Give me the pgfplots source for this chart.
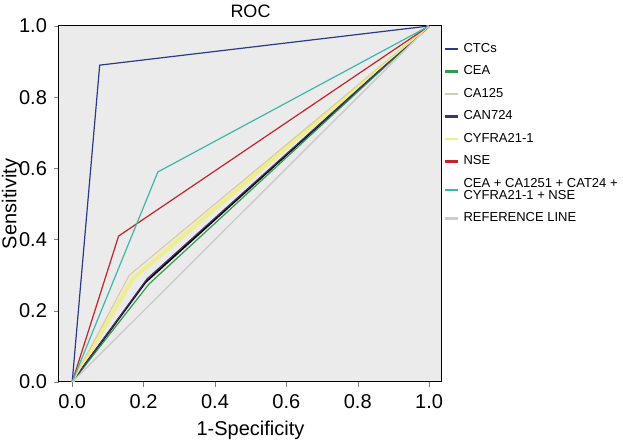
\documentclass[border=0pt]{standalone}
\usepackage{pgfplots}
\pgfplotsset{compat=1.18}
\usepackage{fontspec}
\setmainfont{Liberation Sans}
\definecolor{bgc}{HTML}{EBEBEB}
\definecolor{cctc}{HTML}{2B3A8A}
\definecolor{ccea}{HTML}{2E9E4A}
\definecolor{cca}{HTML}{D9CCA6}
\definecolor{ccan}{HTML}{4A2F6E}
\definecolor{ccyf}{HTML}{EEEE8C}
\definecolor{cnse}{HTML}{C62228}
\definecolor{ccomb}{HTML}{3DB7AA}
\definecolor{cref}{HTML}{CDCDCD}
\begin{document}
\begin{tikzpicture}
\path[use as bounding box] (0,0) rectangle (311.5pt,221pt);
\begin{axis}[
  at={(29.5pt,30pt)}, anchor=south west,
  scale only axis, width=191.5pt, height=178pt,
  xmin=-0.037, xmax=1.036, ymin=0, ymax=1,
  axis background/.style={fill=bgc},
  xtick={0,0.2,...,1.0}, ytick={0,0.2,...,1.0},
  xticklabel style={/pgf/number format/fixed, /pgf/number format/fixed zerofill, /pgf/number format/precision=1},
  yticklabel style={/pgf/number format/fixed, /pgf/number format/fixed zerofill, /pgf/number format/precision=1},
  /pgf/number format/assume math mode=true,
  tick label style={font=\fontsize{10}{11}\selectfont},
  tick align=outside, tick pos=left,
  major tick length=2.5pt,
  xlabel={1-Specificity}, ylabel={Sensitivity},
  label style={font=\fontsize{10}{11}\selectfont},
  xlabel style={at={(axis description cs:0.5,-0.135)}, anchor=center},
  ylabel style={at={(axis description cs:-0.125,0.5)}, anchor=center},
  every axis title shift=0pt,
  title={ROC}, title style={font=\fontsize{9}{10}\selectfont, at={(axis description cs:0.5,1)}, anchor=south, yshift=0.5pt},
  axis line style={line width=0.5pt},
  legend style={at={(1,0.97)}, anchor=north west, draw=none, fill=none,
    font=\fontsize{6.5}{6}\selectfont, row sep=1.2pt, cells={align=left},
    inner sep=1pt},
  legend cell align=left,
  legend image code/.code={\draw[#1, line width=1.1pt] (0pt,0pt) -- (6.5pt,0pt);},
  every axis plot/.append style={line width=0.6pt},
]
\addplot[cref, forget plot] coordinates {(0,0) (1,1)};
\addplot[ccyf, line width=2pt, forget plot] coordinates {(0,0) (0.17,0.29) (1,1)};
\addplot[black, line width=0.9pt, forget plot] coordinates {(0,0) (0.205,0.28) (1,1)};
\addplot[cctc] coordinates {(0,0) (0.077,0.89) (1,1)};
\addlegendentry{CTCs}
\addplot[ccea] coordinates {(0,0) (0.215,0.275) (1,1)};
\addlegendentry{CEA}
\addplot[cca] coordinates {(0,0) (0.16,0.30) (1,1)};
\addlegendentry{CA125}
\addplot[ccan] coordinates {(0,0) (0.21,0.29) (1,1)};
\addlegendentry{CAN724}
\addplot[ccyf] coordinates {(0,0) (0.17,0.29) (1,1)};
\addlegendentry{CYFRA21-1}
\addplot[cnse] coordinates {(0,0) (0.13,0.41) (1,1)};
\addlegendentry{NSE}
\addplot[ccomb] coordinates {(0,0) (0.24,0.59) (1,1)};
\addlegendentry{CEA + CA1251 + CAT24 +\\CYFRA21-1 + NSE}
\addplot[cref] coordinates {(0,0) (1,1)};
\addlegendentry{REFERENCE LINE}
\end{axis}
\end{tikzpicture}
\end{document}
